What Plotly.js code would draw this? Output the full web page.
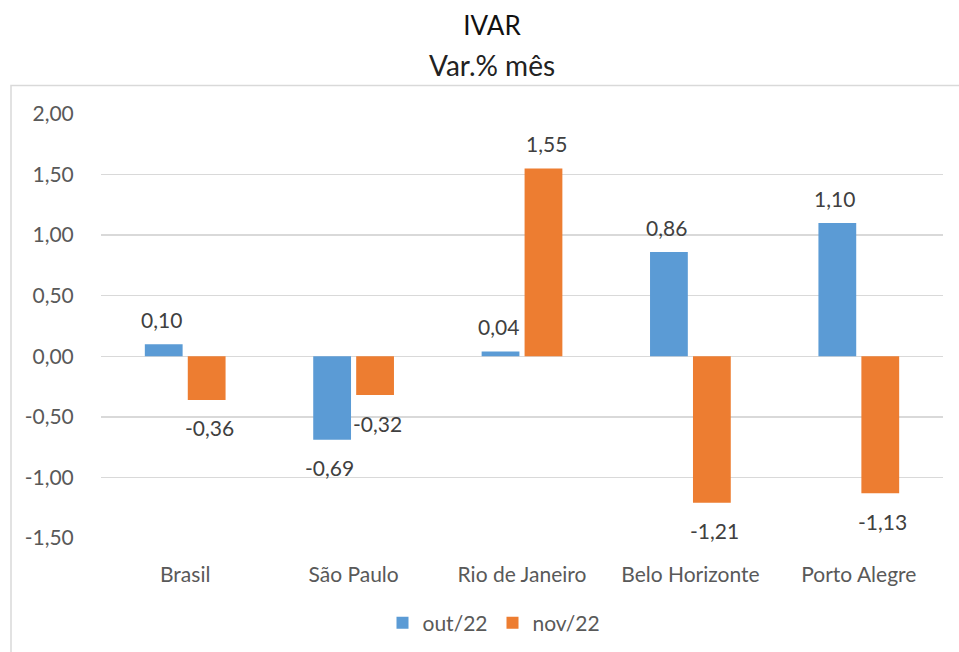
<!DOCTYPE html>
<html>
<head>
<meta charset="utf-8">
<script src="https://cdn.plot.ly/plotly-3.0.1.min.js"></script>
<style>html,body{margin:0;padding:0;background:#fff;}#chart{width:959px;height:652px;}</style>
</head>
<body>
<div id="chart"></div>
<script>
const categories = ['Brasil', 'São Paulo', 'Rio de Janeiro', 'Belo Horizonte', 'Porto Alegre'];
const seriesNames = ['out/22', 'nov/22'];
const outValues = [0.10, -0.69, 0.04, 0.86, 1.10];
const novValues = [-0.36, -0.32, 1.55, -1.21, -1.13];
const yTickValues = [-1.5, -1.0, -0.5, 0, 0.5, 1.0, 1.5, 2.0];

const FONT = 'Lato, "Open Sans", sans-serif';
const colors = ['#5B9BD5', '#ED7D31'];
const allSeries = [outValues, novValues];
const fmt = v => v.toFixed(2).replace('.', ',');

const traces = allSeries.map((vals, i) => ({
  type: 'bar',
  name: seriesNames[i],
  x: categories,
  y: vals,
  marker: {color: colors[i]},
  hoverinfo: 'skip'
}));

const annotations = [];
allSeries.forEach((vals, i) => {
  vals.forEach((v, j) => {
    annotations.push({
      x: categories[j], y: v, xref: 'x', yref: 'y',
      text: fmt(v), showarrow: false,
      xshift: i === 0 ? -24 : 24,
      yshift: v >= 0 ? 25 : -28,
      yanchor: 'middle',
      font: {family: FONT, size: 21, color: '#404040'}
    });
  });
});
annotations.push({
  xref: 'paper', yref: 'paper', x: (492 - 101) / 842, y: (538 - 65) / 424,
  text: 'Var.% mês', showarrow: false, xanchor: 'center', yanchor: 'middle',
  font: {family: FONT, size: 28, color: '#222222'}
});

const layout = {
  width: 959, height: 652,
  margin: {l: 101, r: 16, t: 114, b: 114},
  paper_bgcolor: '#ffffff', plot_bgcolor: '#ffffff',
  separators: ',.',
  title: {
    text: 'IVAR', x: 492/959, xanchor: 'center', y: 1 - 26/652, yanchor: 'middle',
    xref: 'container', yref: 'container',
    font: {family: FONT, size: 26, color: '#111111'}
  },
  barmode: 'group', bargap: 0.49, bargroupgap: 0.12,
  showlegend: true,
  legend: {
    orientation: 'h', xref: 'container', yref: 'container',
    x: 494/959, xanchor: 'center', y: 1 - 623/652, yanchor: 'middle',
    font: {family: FONT, size: 21, color: '#595959'},
    itemwidth: 30, traceorder: 'normal'
  },
  xaxis: {
    type: 'category', showgrid: false, zeroline: false, showline: false,
    ticks: 'outside', ticklen: 18, tickcolor: 'rgba(0,0,0,0)',
    tickfont: {family: FONT, size: 21, color: '#595959'}
  },
  yaxis: {
    range: [-1.5, 2.0], tickvals: yTickValues, ticktext: yTickValues.map(fmt),
    showgrid: true, gridcolor: '#d9d9d9', gridwidth: 1.3,
    zeroline: false, showline: false,
    ticks: 'outside', ticklen: 22, tickcolor: 'rgba(0,0,0,0)',
    tickfont: {family: FONT, size: 21, color: '#595959'}
  },
  annotations: annotations,
  shapes: [{
    type: 'rect', xref: 'paper', yref: 'paper',
    x0: (11 - 101) / 842, x1: (975 - 101) / 842,
    y0: (538 - 670) / 424, y1: (538 - 85.5) / 424,
    line: {color: '#d9d9d9', width: 1.5}, layer: 'below'
  }]
};

Plotly.newPlot('chart', traces, layout, {displayModeBar: false, staticPlot: true});
</script>
</body>
</html>
